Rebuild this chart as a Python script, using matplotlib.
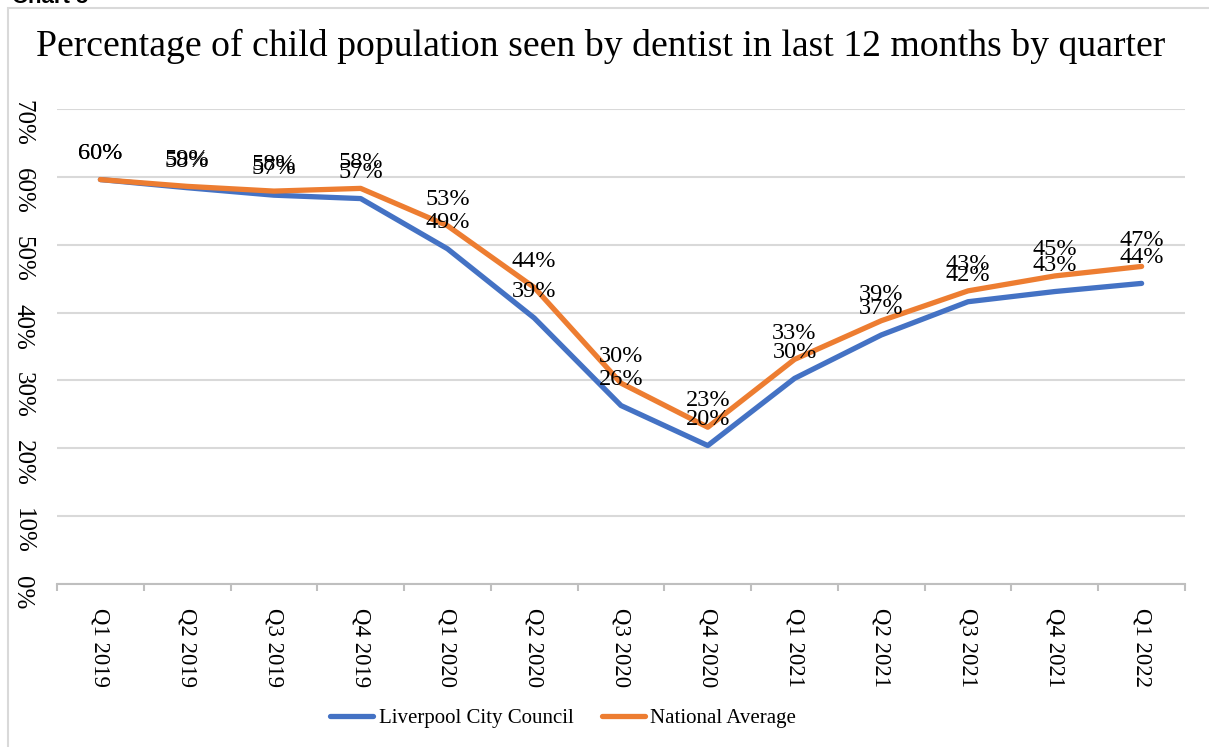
import numpy as np
import matplotlib.pyplot as plt
from matplotlib.patches import Rectangle

plt.rcParams['font.family'] = ['Liberation Serif', 'DejaVu Serif']

quarters = ['Q1 2019', 'Q2 2019', 'Q3 2019', 'Q4 2019', 'Q1 2020', 'Q2 2020', 'Q3 2020',
            'Q4 2020', 'Q1 2021', 'Q2 2021', 'Q3 2021', 'Q4 2021', 'Q1 2022']
liverpool = [59.6, 58.4, 57.3, 56.8, 49.4, 39.2, 26.3, 20.4, 30.3, 36.7, 41.6, 43.1, 44.3]
national = [59.6, 58.6, 57.9, 58.3, 52.8, 43.7, 29.6, 23.1, 33.1, 38.8, 43.2, 45.4, 46.8]
yticks = [0, 10, 20, 30, 40, 50, 60, 70]

blue = '#4472C4'
orange = '#ED7D31'

fig = plt.figure(figsize=(12.09, 7.47), dpi=100)
ax = fig.add_axes([57 / 1209, 1 - 584 / 747, (1185 - 57) / 1209, (584 - 109) / 747])

# outer chart frame
fig.patches.append(Rectangle((8 / 1209, -0.1), 1.2, 1 - 8 / 747 + 0.1, transform=fig.transFigure,
                             fill=False, edgecolor='#D9D9D9', linewidth=1.5))
fig.text(12 / 1209, 1 - 3 / 747, 'Chart 5', family='Liberation Sans', fontweight='bold',
         fontsize=16, va='baseline', ha='left')

x = np.arange(len(quarters))
ax.plot(x, liverpool, color=blue, lw=3.8, solid_capstyle='round', solid_joinstyle='round',
        label='Liverpool City Council', zorder=3)
ax.plot(x, national, color=orange, lw=3.8, solid_capstyle='round', solid_joinstyle='round',
        label='National Average', zorder=4)

for series in (national, liverpool):
    for xi, v in zip(x, series):
        ax.annotate(f'{v:.0f}%', (xi, v), xytext=(0, 19), textcoords='offset points',
                    ha='center', va='center', fontsize=17.5, zorder=5)

ax.set_xlim(-0.5, len(quarters) - 0.5)
ax.set_ylim(0, 70)
ax.set_yticks(yticks)
ax.set_yticklabels([f'{t}%' for t in yticks], rotation=-90, fontsize=18)
ax.grid(axis='y', color='#D9D9D9', lw=1.5)
ax.set_axisbelow(True)

ax.set_xticks(x)
ax.set_xticklabels(quarters, rotation=-90, fontsize=16.5, va='top', ha='center')
ax.set_xticks(np.arange(len(quarters) + 1) - 0.5, minor=True)
ax.tick_params(axis='x', which='major', length=0, pad=17)
ax.tick_params(axis='x', which='minor', length=5, width=1.5, color='#BFBFBF')
ax.tick_params(axis='y', length=0, pad=17)

for s in ('left', 'right', 'top'):
    ax.spines[s].set_visible(False)
ax.spines['bottom'].set_color('#BFBFBF')
ax.spines['bottom'].set_linewidth(1.5)

fig.text(0.497, 1 - 56 / 747, 'Percentage of child population seen by dentist in last 12 months by quarter',
         ha='center', va='baseline', fontsize=27.2)

fig.legend(loc='center', bbox_to_anchor=(563 / 1209, 1 - 718 / 747), ncol=2, frameon=False,
           fontsize=15, handlelength=2.1, columnspacing=1.35, handletextpad=0.25)

fig.savefig('out.png', dpi=100)
